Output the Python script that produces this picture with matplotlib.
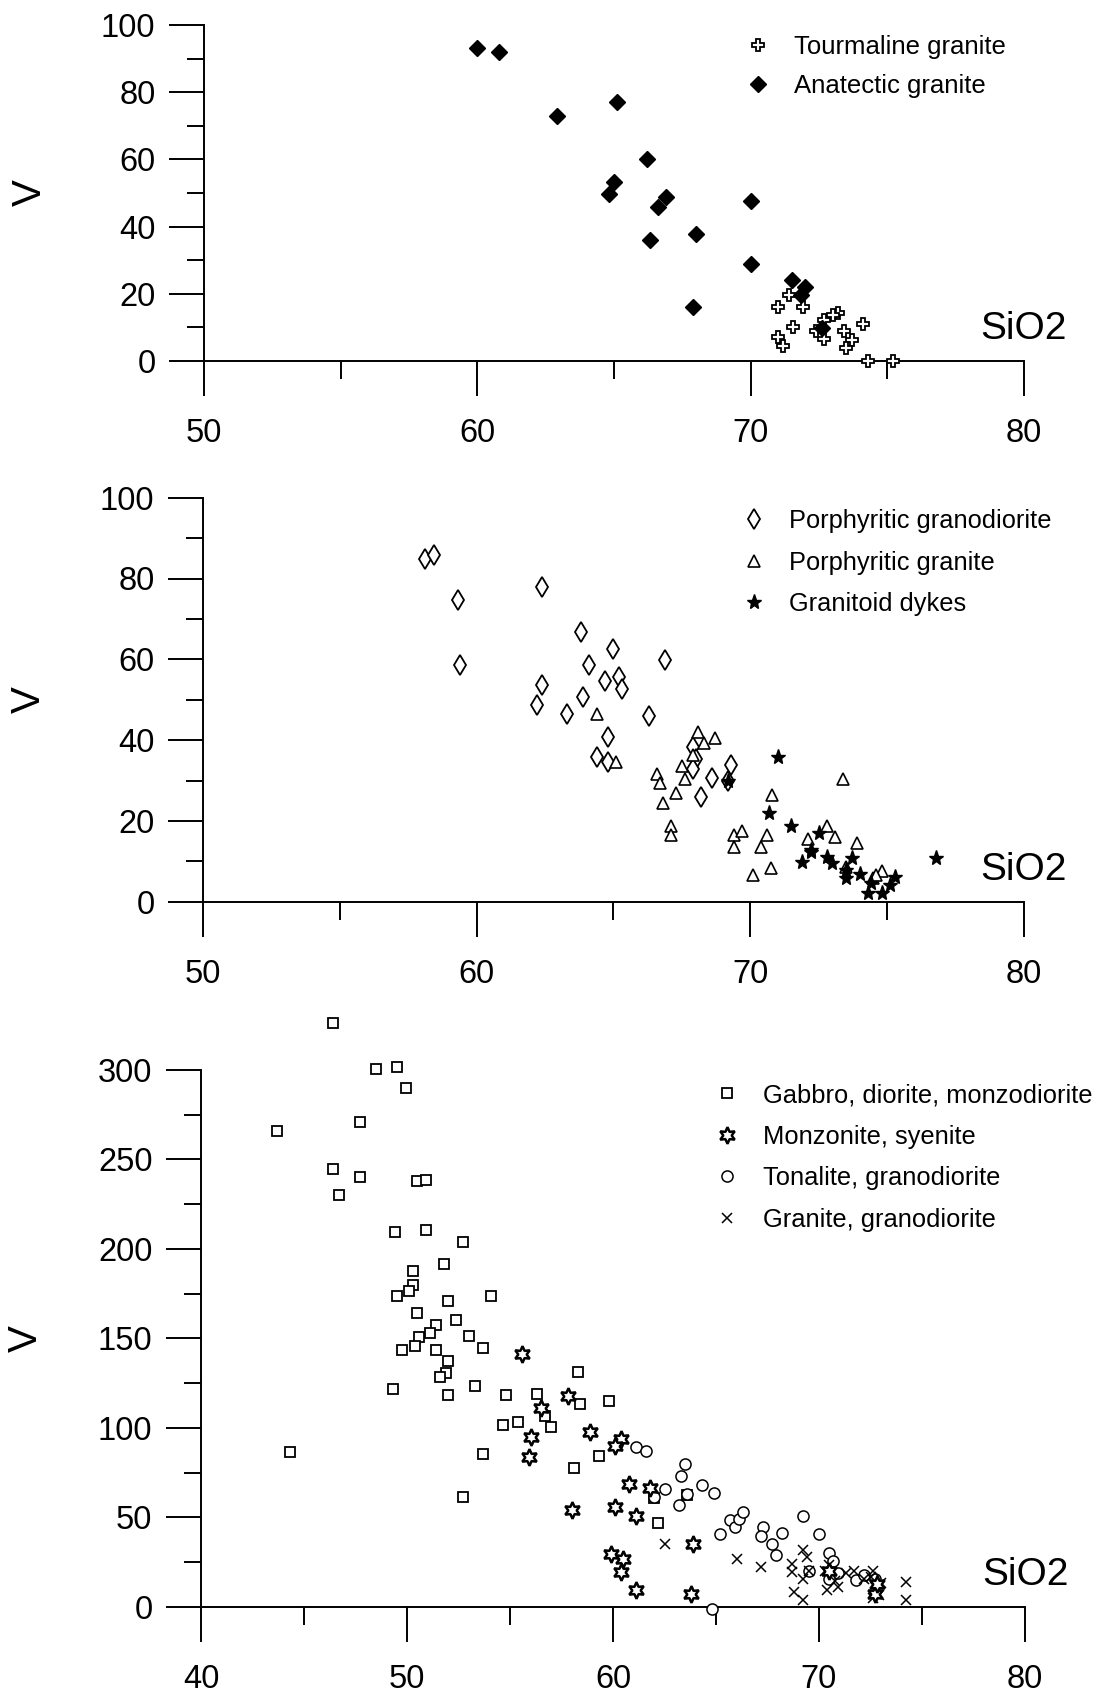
import numpy as np
import matplotlib.pyplot as plt
from matplotlib.ticker import MultipleLocator

plt.rcParams['font.family'] = ['Liberation Sans', 'DejaVu Sans']

# --- panel 1 data ---
tg_x = [71.0, 71.4, 71.9, 73.2, 73.0, 72.7, 71.55, 72.4, 72.7, 73.4, 73.7, 73.5, 74.1, 71.0, 71.2, 74.3, 75.2]
tg_y = [15.9, 19.7, 15.9, 14.1, 13.6, 12.2, 9.9, 8.9, 6.6, 9.0, 6.2, 3.7, 11.0, 7.0, 4.4, 0, 0]

ag_x = [60.0, 60.8, 62.9, 65.1, 66.2, 65.0, 64.8, 66.9, 66.6, 66.3, 68.0, 70.0, 70.0, 67.9, 71.5, 72.0, 71.85, 72.6]
ag_y = [93.3, 92.1, 73.0, 77.0, 60.0, 53.2, 49.8, 48.8, 45.9, 35.9, 37.8, 47.7, 28.8, 15.9, 24.0, 21.9, 19.7, 9.7]

# --- panel 2 data ---
pgd_x = [58.1, 58.45, 59.3, 59.4, 62.4, 62.4, 62.2, 63.3, 63.8, 64.1, 63.9, 64.7, 65.0, 65.2, 65.3,
         66.9, 66.3, 64.8, 64.4, 64.8, 67.9, 68.0, 67.9, 68.2, 68.6, 69.3, 69.2]
pgd_y = [84.9, 85.7, 74.6, 58.5, 77.9, 53.7, 48.8, 46.5, 66.8, 58.7, 50.7, 54.7, 62.6, 55.6, 52.7,
         59.8, 45.9, 40.7, 35.8, 34.7, 38.3, 35.4, 32.8, 25.8, 30.7, 33.9, 29.8]

pg_x = [64.4, 65.1, 66.6, 66.7, 67.3, 66.8, 67.5, 67.6, 68.1, 68.3, 68.7, 67.9, 67.1, 67.1, 69.4, 69.7,
        69.4, 70.8, 70.6, 70.4, 70.1, 70.75, 72.1, 72.8, 73.1, 73.9, 73.4, 73.5, 74.8, 74.5, 74.6]
pg_y = [46.5, 34.5, 31.7, 29.3, 26.9, 24.5, 33.7, 30.3, 42.1, 39.4, 40.5, 36.2, 18.8, 16.5, 16.4, 17.6,
        13.5, 26.4, 16.5, 13.5, 6.6, 8.4, 15.5, 18.8, 15.9, 14.6, 30.3, 8.5, 7.6, 5.8, 6.6]

gd_x = [69.2, 71.0, 70.7, 71.5, 72.5, 72.2, 71.9, 72.8, 73.0, 73.7, 73.5, 73.5, 74.0, 74.4, 74.3,
        74.8, 75.1, 75.3, 76.8, 72.2]
gd_y = [29.9, 35.8, 21.9, 18.8, 17.1, 12.4, 9.9, 11.0, 9.7, 10.9, 7.9, 5.8, 6.8, 4.7, 2.1,
        2.1, 4.1, 6.0, 10.7, 12.8]

# --- panel 3 data ---
gab_x = [43.7, 44.3, 46.4, 46.7, 47.7, 47.7, 48.5, 49.5, 49.96, 49.4, 50.9, 50.5, 50.9, 52.7, 51.8,
         50.3, 50.3, 50.1, 49.5, 54.1, 52.0, 50.5, 52.4, 51.4, 51.1, 50.6, 53.0, 50.4, 49.75, 51.4,
         53.7, 52.0, 51.9, 51.6, 52.0, 49.3, 53.3, 54.8, 56.3, 58.3, 58.4, 59.8, 56.7, 57.0, 55.4,
         54.65, 53.7, 59.3, 58.1, 52.7, 62.2, 63.6, 62.0, 46.4]
gab_y = [266, 86.6, 244.7, 230.1, 270.6, 240.0, 300.7, 301.4, 290.0, 209.5, 210.6, 237.7, 238.7, 203.7, 191.4,
         187.5, 179.9, 176.4, 173.8, 173.8, 170.8, 164.1, 160.0, 157.6, 153.0, 150.7, 151.6, 145.6, 143.3, 143.8,
         144.7, 137.5, 130.8, 128.2, 118.5, 122.0, 123.6, 118.5, 119.0, 131.3, 113.4, 115.3, 106.5, 100.7, 103.5,
         101.6, 85.6, 84.3, 77.5, 61.6, 47.0, 62.3, 61.1, 326]

mz_x = [55.6, 57.8, 56.5, 56.0, 55.9, 58.9, 60.4, 60.1, 58.0, 60.1, 60.8, 61.1, 61.8, 63.9, 59.9,
        60.5, 60.4, 61.1, 63.8, 70.5, 72.7, 72.8]
mz_y = [141.2, 118.1, 111.3, 94.9, 83.8, 97.7, 93.75, 90.0, 54.2, 55.6, 68.75, 50.9, 66.4, 35.2, 29.4,
        26.6, 19.7, 9.3, 7.4, 20.1, 7.4, 12.7]

ton_x = [61.1, 61.6, 62.5, 62.0, 63.5, 63.3, 63.2, 63.6, 64.3, 64.9, 65.2, 65.7, 65.9, 66.1, 66.3,
         67.3, 67.2, 67.7, 67.9, 68.2, 69.2, 70.0, 70.5, 70.7, 70.9, 71.8, 72.2, 72.7, 64.8, 70.5, 69.5]
ton_y = [89.4, 87.0, 66.0, 61.3, 80.1, 72.9, 56.7, 63.0, 68.3, 63.4, 41.0, 48.4, 44.9, 49.1, 53.0,
         44.4, 39.8, 35.0, 28.9, 41.4, 50.7, 41.0, 29.9, 25.9, 19.0, 15.0, 17.8, 15.5, -1.2, 15.5, 20.1]

gr_x = [62.5, 66.0, 67.2, 68.7, 68.7, 68.8, 69.2, 69.2, 69.4, 69.2, 69.5, 70.3, 70.4, 70.8, 70.9,
        71.3, 71.7, 72.2, 72.6, 72.5, 72.6, 72.9, 73.0, 74.2, 74.2, 70.5]
gr_y = [35.2, 26.6, 22.5, 23.8, 19.4, 8.6, 3.9, 31.7, 27.8, 15.5, 20.1, 20.1, 9.7, 14.4, 11.3,
        19.0, 20.1, 15.5, 20.1, 16.7, 5.1, 6.7, 13.2, 13.7, 3.9, 23.6]

W, H = 1102, 1697
fig = plt.figure(figsize=(W / 100, H / 100), dpi=100)


def make_axes(left, right, y0, ytop):
    # pixel positions -> figure fractions
    return fig.add_axes([left / W, 1 - y0 / H, (right - left) / W, (y0 - ytop) / H])


def style(ax, xlim, ylim, xmaj, ymaj, ymin):
    ax.set_xlim(*xlim)
    ax.set_ylim(*ylim)
    for s in ['top', 'right']:
        ax.spines[s].set_visible(False)
    for s in ['left', 'bottom']:
        ax.spines[s].set_linewidth(1.4)
    ax.xaxis.set_major_locator(MultipleLocator(xmaj))
    ax.xaxis.set_minor_locator(MultipleLocator(xmaj / 2))
    ax.yaxis.set_major_locator(MultipleLocator(ymaj))
    ax.yaxis.set_minor_locator(MultipleLocator(ymin))
    ax.tick_params(axis='x', which='major', direction='out', length=25, width=1.4, pad=16, labelsize=23.5)
    ax.tick_params(axis='x', which='minor', direction='out', length=13, width=1.4)
    ax.tick_params(axis='y', which='major', direction='out', length=25, width=1.4, pad=10, labelsize=23.5)
    ax.tick_params(axis='y', which='minor', direction='out', length=12, width=1.4)
    ax.set_ylabel('V', fontsize=29, rotation=90, va='center', ha='center')
    ax.yaxis.set_label_coords(-0.212, 0.5)
    ax.annotate('SiO2', xy=(xlim[1], 0), xytext=(0, 23), textcoords='offset points',
                ha='center', va='center', fontsize=28, annotation_clip=False)


def legend(ax, x_px, y_px, fs, spacing):
    ax.legend(loc='upper left', bbox_to_anchor=(x_px / W, 1 - y_px / H),
              bbox_transform=fig.transFigure, frameon=False, fontsize=fs,
              handlelength=1.0, handletextpad=0.9, labelspacing=spacing,
              borderpad=0, borderaxespad=0, numpoints=1)


# ---------- panel 1 ----------
ax1 = make_axes(204, 1024, 360.7, 25.3)
style(ax1, (50, 80), (0, 100), 10, 20, 10)
ax1.plot(tg_x, tg_y, ls='none', marker='P', ms=9, mfc='white', mec='black', mew=1.3,
         clip_on=False, label='Tourmaline granite', zorder=3)
ax1.plot(ag_x, ag_y, ls='none', marker='D', ms=8, mfc='black', mec='black',
         clip_on=False, label='Anatectic granite', zorder=3)
legend(ax1, 745, 35, 18.5, 0.6)

# ---------- panel 2 ----------
ax2 = make_axes(203, 1024, 901.7, 497.7)
style(ax2, (50, 80), (0, 100), 10, 20, 10)
ax2.plot(pgd_x, pgd_y, ls='none', marker='d', ms=10, mfc='white', mec='black', mew=1.3,
         clip_on=False, label='Porphyritic granodiorite', zorder=3)
ax2.plot(pg_x, pg_y, ls='none', marker='^', ms=8, mfc='white', mec='black', mew=1.2,
         clip_on=False, label='Porphyritic granite', zorder=3)
ax2.plot(gd_x, gd_y, ls='none', marker='*', ms=11, mfc='black', mec='black',
         clip_on=False, label='Granitoid dykes', zorder=4)
legend(ax2, 741, 509, 18.3, 0.69)

# ---------- panel 3 ----------
ax3 = make_axes(201, 1025, 1607, 1069.8)
style(ax3, (40, 80), (0, 300), 10, 50, 25)
ax3.plot(gab_x, gab_y, ls='none', marker='s', ms=7, mfc='white', mec='black', mew=1.3,
         clip_on=False, label='Gabbro, diorite, monzodiorite', zorder=3)
ax3.plot(mz_x, mz_y, ls='none', marker=(6, 1, 0), ms=12, mfc='white', mec='black', mew=1.8,
         clip_on=False, label='Monzonite, syenite', zorder=4)
ax3.plot(ton_x, ton_y, ls='none', marker='o', ms=8, mfc='white', mec='black', mew=1.1,
         clip_on=False, label='Tonalite, granodiorite', zorder=3)
ax3.plot(gr_x, gr_y, ls='none', marker='x', ms=7, mec='black', mew=1.1,
         clip_on=False, label='Granite, granodiorite', zorder=3)
legend(ax3, 714, 1083, 18.4, 0.69)

fig.savefig('out.png', dpi=100)
